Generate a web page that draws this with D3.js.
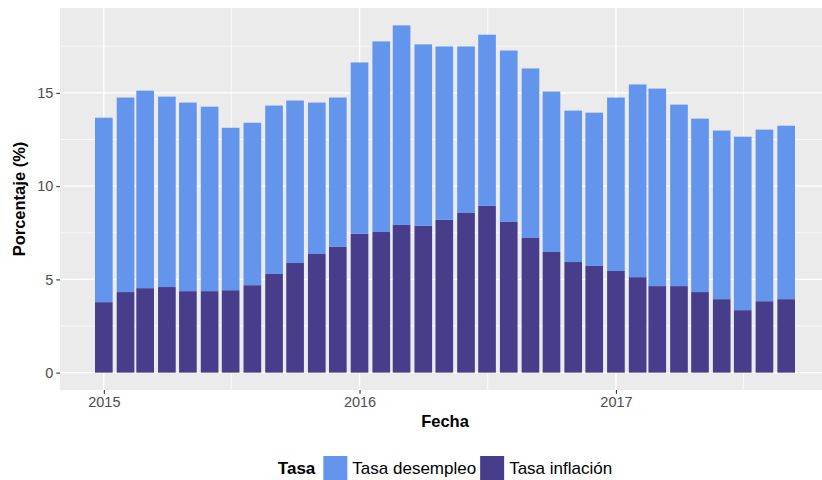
<!DOCTYPE html>
<html>
<head>
<meta charset="utf-8">
<script src="https://cdn.jsdelivr.net/npm/d3@7"></script>
<style>
  body { margin: 0; background: #fff; }
  text { font-family: "Liberation Sans", Arial, Helvetica, sans-serif; }
</style>
</head>
<body>
<script>
// Datos (mensuales)
const fechas = [
  "2015-01-01", "2015-02-01", "2015-03-01", "2015-04-01", "2015-05-01", "2015-06-01",
  "2015-07-01", "2015-08-01", "2015-09-01", "2015-10-01", "2015-11-01", "2015-12-01",
  "2016-01-01", "2016-02-01", "2016-03-01", "2016-04-01", "2016-05-01", "2016-06-01",
  "2016-07-01", "2016-08-01", "2016-09-01", "2016-10-01", "2016-11-01", "2016-12-01",
  "2017-01-01", "2017-02-01", "2017-03-01", "2017-04-01", "2017-05-01", "2017-06-01",
  "2017-07-01", "2017-08-01", "2017-09-01"
];
const tasaInflacion = [
  3.78, 4.32, 4.53, 4.59, 4.37, 4.37, 4.42, 4.69, 5.29, 5.88, 6.36, 6.74,
  7.44, 7.54, 7.92, 7.87, 8.19, 8.56, 8.94, 8.08, 7.22, 6.47, 5.93, 5.72,
  5.45, 5.12, 4.64, 4.64, 4.32, 3.94, 3.35, 3.83, 3.94
];
const tasaDesempleo = [
  9.89, 10.43, 10.59, 10.21, 10.11, 9.89, 8.71, 8.71, 9.03, 8.71, 8.12, 8.01,
  9.19, 10.22, 10.70, 9.73, 9.30, 8.93, 9.18, 9.19, 9.09, 8.60, 8.12, 8.22,
  9.30, 10.33, 10.59, 9.73, 9.30, 9.04, 9.30, 9.20, 9.30
];
const yTicks = [0, 5, 10, 15];
const yMinor = [2.5, 7.5, 12.5, 17.5];
const xTicks = ["2015-01-01", "2016-01-01", "2017-01-01"];
const xMinor = ["2015-07-02", "2016-07-02", "2017-07-02"];

const series = [
  { key: "desempleo", nombre: "Tasa desempleo", color: "#6495ED" },
  { key: "inflacion", nombre: "Tasa inflación", color: "#483D8B" }
];

// Configuración
const width = 822;
const height = 480;
const panel = { left: 60, top: 8, right: 830, bottom: 390 };
const DAY = 864e5;

const parse = d3.utcParse("%Y-%m-%d");
const datos = fechas.map((f, i) => ({
  fecha: parse(f),
  inflacion: tasaInflacion[i],
  desempleo: tasaDesempleo[i]
}));

const svg = d3.select("body").append("svg")
    .attr("width", width)
    .attr("height", height);

// Escalas (con expansión 5% estilo ggplot)
const halfW = 0.9 * 28 * DAY / 2;
const xMin = +datos[0].fecha - halfW;
const xMax = +datos[datos.length - 1].fecha + halfW;
const xPad = (xMax - xMin) * 0.05;
const x = d3.scaleUtc()
    .domain([new Date(xMin - xPad), new Date(xMax + xPad)])
    .range([panel.left, panel.right]);

const stack = d3.stack().keys(["inflacion", "desempleo"]);
const capas = stack(datos);
const yMaxVal = d3.max(capas[capas.length - 1], d => d[1]);
const yPad = yMaxVal * 0.05;
const y = d3.scaleLinear()
    .domain([-yPad, yMaxVal + yPad])
    .range([panel.bottom, panel.top]);

// Fondo del panel
svg.append("rect")
    .attr("x", panel.left).attr("y", panel.top)
    .attr("width", panel.right - panel.left)
    .attr("height", panel.bottom - panel.top)
    .attr("fill", "#EBEBEB");

const grid = svg.append("g");
grid.selectAll(".hmin").data(yMinor).enter().append("line")
    .attr("x1", panel.left).attr("x2", panel.right)
    .attr("y1", d => y(d)).attr("y2", d => y(d))
    .attr("stroke", "#fff").attr("stroke-width", 0.7);
grid.selectAll(".vmin").data(xMinor.map(parse)).enter().append("line")
    .attr("x1", d => x(d)).attr("x2", d => x(d))
    .attr("y1", panel.top).attr("y2", panel.bottom)
    .attr("stroke", "#fff").attr("stroke-width", 0.7);
grid.selectAll(".hmaj").data(yTicks).enter().append("line")
    .attr("x1", panel.left).attr("x2", panel.right)
    .attr("y1", d => y(d)).attr("y2", d => y(d))
    .attr("stroke", "#fff").attr("stroke-width", 1.4);
grid.selectAll(".vmaj").data(xTicks.map(parse)).enter().append("line")
    .attr("x1", d => x(d)).attr("x2", d => x(d))
    .attr("y1", panel.top).attr("y2", panel.bottom)
    .attr("stroke", "#fff").attr("stroke-width", 1.4);

// Barras apiladas
const colorDe = { inflacion: "#483D8B", desempleo: "#6495ED" };
svg.append("g").selectAll("g")
    .data(capas)
    .enter().append("g")
    .attr("fill", d => colorDe[d.key])
    .selectAll("rect")
    .data(d => d)
    .enter().append("rect")
    .attr("x", d => x(new Date(+d.data.fecha - halfW)))
    .attr("width", d => x(new Date(+d.data.fecha + halfW)) - x(new Date(+d.data.fecha - halfW)))
    .attr("y", d => y(d[1]))
    .attr("height", d => y(d[0]) - y(d[1]));

// Ejes
const yAxis = svg.append("g")
    .attr("transform", `translate(${panel.left},0)`)
    .call(d3.axisLeft(y).tickValues(yTicks).tickSize(3.7).tickPadding(3));
const xAxis = svg.append("g")
    .attr("transform", `translate(0,${panel.bottom})`)
    .call(d3.axisBottom(x).tickValues(xTicks.map(parse)).tickSize(3.7).tickPadding(3)
        .tickFormat(d3.utcFormat("%Y")));
[yAxis, xAxis].forEach(a => {
  a.select(".domain").remove();
  a.selectAll(".tick line").attr("stroke", "#333333").attr("stroke-width", 1.1);
  a.selectAll(".tick text").attr("fill", "#4D4D4D")
      .style("font-size", "14.5px")
      .style("font-family", '"Liberation Sans", Arial, sans-serif');
});

// Títulos de ejes
svg.append("text")
    .attr("x", (panel.left + panel.right) / 2)
    .attr("y", 427)
    .attr("text-anchor", "middle")
    .style("font-size", "16.5px").style("font-weight", "bold")
    .text("Fecha");
svg.append("text")
    .attr("transform", `translate(25,${(panel.top + panel.bottom) / 2}) rotate(-90)`)
    .attr("text-anchor", "middle")
    .style("font-size", "16.5px").style("font-weight", "bold")
    .text("Porcentaje (%)");

// Leyenda
const leyenda = svg.append("g");
const keySize = 24;
const keyY = 456;
let cx = 0;
const titulo = leyenda.append("text")
    .attr("x", cx).attr("y", keyY + 18)
    .style("font-size", "17px").style("font-weight", "bold")
    .text("Tasa");
cx += titulo.node().getComputedTextLength() + 8;
series.forEach(s => {
  leyenda.append("rect")
      .attr("x", cx).attr("y", keyY)
      .attr("width", keySize).attr("height", keySize)
      .attr("fill", s.color);
  cx += keySize + 5;
  const t = leyenda.append("text")
      .attr("x", cx).attr("y", keyY + 18)
      .style("font-size", "17px")
      .text(s.nombre);
  cx += t.node().getComputedTextLength() + 4;
});
const leyendaAncho = cx - 4;
leyenda.attr("transform", `translate(${(panel.left + panel.right) / 2 - leyendaAncho / 2},0)`);
</script>
</body>
</html>
